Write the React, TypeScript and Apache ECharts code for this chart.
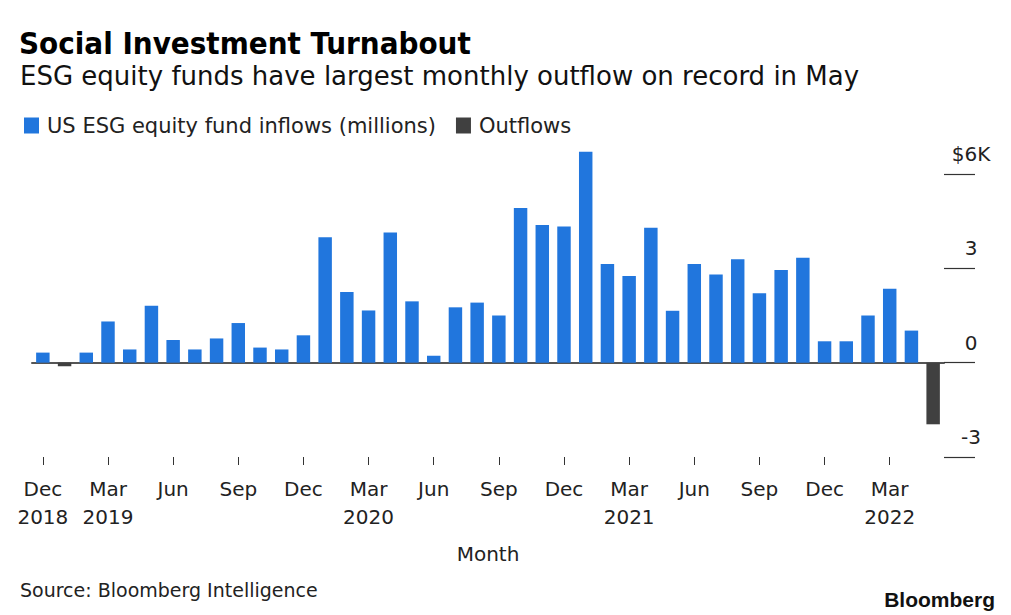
import React, { useEffect, useRef } from "react";
import * as echarts from "echarts";

const FONT = "'DejaVu Sans', sans-serif";
const TITLE_FONT = "'DejaVu Sans Condensed', 'DejaVu Sans', sans-serif";

const months = [
  "Dec 2018", "Jan 2019", "Feb 2019", "Mar 2019", "Apr 2019", "May 2019", "Jun 2019",
  "Jul 2019", "Aug 2019", "Sep 2019", "Oct 2019", "Nov 2019", "Dec 2019",
  "Jan 2020", "Feb 2020", "Mar 2020", "Apr 2020", "May 2020", "Jun 2020",
  "Jul 2020", "Aug 2020", "Sep 2020", "Oct 2020", "Nov 2020", "Dec 2020",
  "Jan 2021", "Feb 2021", "Mar 2021", "Apr 2021", "May 2021", "Jun 2021",
  "Jul 2021", "Aug 2021", "Sep 2021", "Oct 2021", "Nov 2021", "Dec 2021",
  "Jan 2022", "Feb 2022", "Mar 2022", "Apr 2022", "May 2022",
];

// $ thousands of millions
const inflows: (number | null)[] = [
  0.32, null, 0.32, 1.31, 0.42, 1.81, 0.72, 0.42, 0.77, 1.26, 0.48, 0.42, 0.87,
  3.99, 2.25, 1.66, 4.14, 1.95, 0.22, 1.76, 1.91, 1.5, 4.92, 4.38, 4.33,
  6.71, 3.14, 2.76, 4.29, 1.65, 3.14, 2.8, 3.29, 2.21, 2.95, 3.34, 0.68,
  0.68, 1.5, 2.35, 1.02, null,
];

const outflows: (number | null)[] = [
  null, -0.11, null, null, null, null, null, null, null, null, null, null, null,
  null, null, null, null, null, null, null, null, null, null, null, null,
  null, null, null, null, null, null, null, null, null, null, null, null,
  null, null, null, null, -1.96,
];

const xTickLabels: Record<string, string> = {
  "Dec 2018": "Dec\n2018",
  "Mar 2019": "Mar\n2019",
  "Jun 2019": "Jun",
  "Sep 2019": "Sep",
  "Dec 2019": "Dec",
  "Mar 2020": "Mar\n2020",
  "Jun 2020": "Jun",
  "Sep 2020": "Sep",
  "Dec 2020": "Dec",
  "Mar 2021": "Mar\n2021",
  "Jun 2021": "Jun",
  "Sep 2021": "Sep",
  "Dec 2021": "Dec",
  "Mar 2022": "Mar\n2022",
};

const yTicks = [-3, 0, 3, 6];
const yTickLabels = ["-3", "0", "3", "$6K"];

const TEXT = "#222";

export default function App() {
  const ref = useRef<HTMLDivElement>(null);
  useEffect(() => {
    if (!ref.current) return;
    const chart = echarts.init(ref.current, null, { renderer: "svg" });
    chart.setOption({
      animation: false,
      backgroundColor: "#ffffff",
      textStyle: { fontFamily: FONT },
      graphic: [
        {
          type: "text",
          x: 19,
          y: 43,
          style: {
            text: "Social Investment Turnabout",
            font: `bold 31px ${TITLE_FONT}`,
            fill: "#000",
            verticalAlign: "middle",
          },
        },
        {
          type: "text",
          x: 20,
          y: 76,
          style: {
            text: "ESG equity funds have largest monthly outflow on record in May",
            font: `26px ${FONT}`,
            fill: "#111",
            verticalAlign: "middle",
          },
        },
        {
          type: "text",
          x: 20,
          y: 590,
          style: {
            text: "Source: Bloomberg Intelligence",
            font: `19px ${FONT}`,
            fill: TEXT,
            verticalAlign: "middle",
          },
        },
        {
          type: "text",
          x: 995,
          y: 599,
          style: {
            text: "Bloomberg",
            font: `bold 21px 'Liberation Sans', Arial, sans-serif`,
            fill: "#111",
            align: "right",
            verticalAlign: "middle",
          },
        },
      ],
      legend: {
        left: 19,
        top: 110,
        icon: "rect",
        itemWidth: 15,
        itemHeight: 16,
        itemGap: 20,
        textStyle: { fontSize: 21, color: TEXT, fontFamily: FONT, padding: [0, 0, 0, 3] },
        data: ["US ESG equity fund inflows (millions)", "Outflows"],
      },
      grid: { left: 32, right: 67, top: 174, bottom: 158, containLabel: false },
      xAxis: [
        {
          type: "category",
          data: months,
          position: "bottom",
          axisLine: { show: true, onZero: true, lineStyle: { color: "#555", width: 2 } },
          axisTick: { show: false },
          axisLabel: { show: false },
        },
        {
          type: "category",
          data: months,
          position: "bottom",
          axisLine: { show: false, onZero: false },
          axisTick: {
            show: true,
            interval: 2,
            length: 8,
            alignWithLabel: true,
            lineStyle: { color: "#333", width: 1 },
          },
          axisLabel: {
            interval: 2,
            margin: 18,
            fontSize: 20,
            lineHeight: 28,
            color: TEXT,
            fontFamily: FONT,
            formatter: (v: string) => xTickLabels[v] ?? "",
          },
          name: "Month",
          nameLocation: "middle",
          nameGap: 87,
          nameTextStyle: { fontSize: 20, color: TEXT, fontFamily: FONT },
        },
      ],
      yAxis: {
        type: "value",
        position: "right",
        min: yTicks[0],
        max: yTicks[yTicks.length - 1],
        interval: 3,
        axisLine: { show: false },
        axisTick: { show: true, length: 31, lineStyle: { color: "#333", width: 1.2 } },
        splitLine: { show: false },
        axisLabel: {
          margin: 27,
          align: "center",
          verticalAlign: "bottom",
          padding: [0, 0, 10, 0],
          fontSize: 20,
          color: TEXT,
          fontFamily: FONT,
          formatter: (v: number) => {
            const i = yTicks.indexOf(v);
            return i >= 0 ? yTickLabels[i] : "";
          },
        },
      },
      series: [
        {
          name: "US ESG equity fund inflows (millions)",
          type: "bar",
          data: inflows,
          barWidth: "62%",
          barGap: "-100%",
          clip: false,
          itemStyle: { color: "#2176dd" },
        },
        {
          name: "Outflows",
          type: "bar",
          data: outflows,
          barWidth: "62%",
          barGap: "-100%",
          clip: false,
          itemStyle: { color: "#404040" },
        },
      ],
    });
    return () => chart.dispose();
  }, []);
  return (
    <div
      ref={ref}
      style={{ position: "fixed", left: 0, top: 0, width: 1011, height: 615 }}
    />
  );
}
